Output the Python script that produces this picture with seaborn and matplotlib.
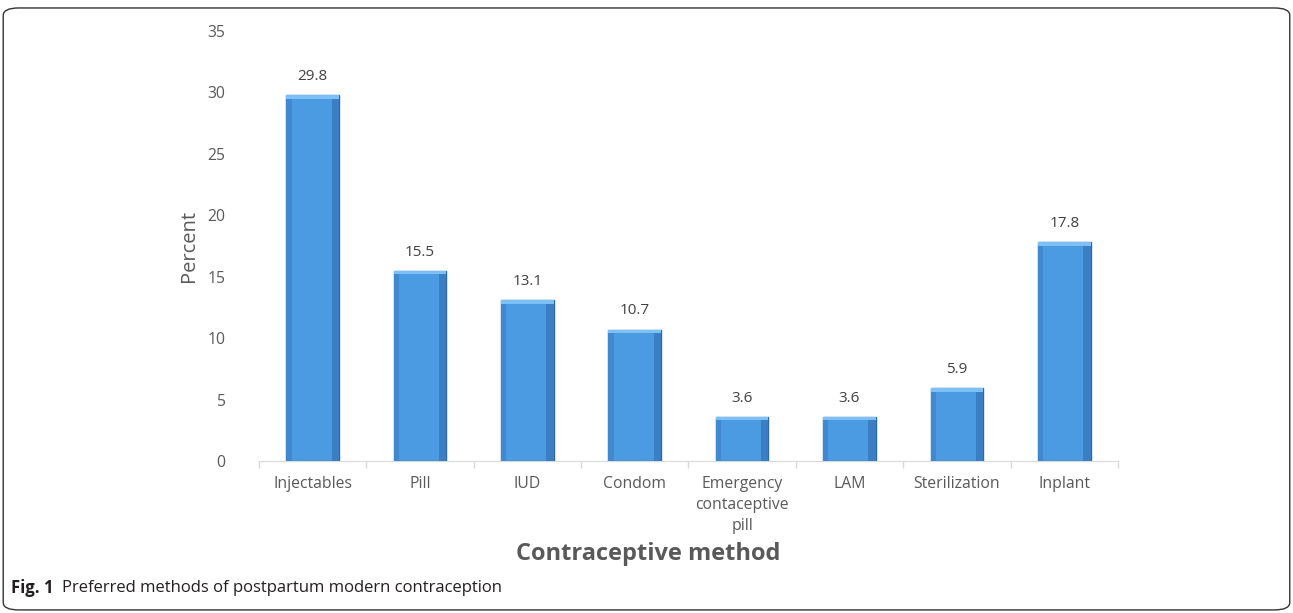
import numpy as np
import pandas as pd
import matplotlib
matplotlib.use('Agg')
import matplotlib.pyplot as plt
from matplotlib.patches import FancyBboxPatch, Rectangle
import seaborn as sns

methods = ['Injectables', 'Pill', 'IUD', 'Condom', 'Emergency\ncontaceptive\npill',
           'LAM', 'Sterilization', 'Inplant']
percent = [29.8, 15.5, 13.1, 10.7, 3.6, 3.6, 5.9, 17.8]
y_ticks = [0, 5, 10, 15, 20, 25, 30, 35]

sns.set_style('white')
plt.rcParams['font.family'] = ['Open Sans', 'DejaVu Sans']

df = pd.DataFrame({'method': methods, 'percent': percent})

fig = plt.figure(figsize=(12.93, 6.13), dpi=100)
ax = fig.add_axes([0.2003, 0.2480, 0.6643, 0.7014])

sns.barplot(data=df, x='method', y='percent', color='#4b9be2', width=0.49,
            edgecolor='#2c68a6', linewidth=1.0, saturation=1, ax=ax)

# simple bevel look: lighter top cap and darker sides
for p in ax.patches:
    x0, w, h = p.get_x(), p.get_width(), p.get_height()
    ax.add_patch(Rectangle((x0, h - 0.3), w, 0.3, color='#7cc0f5', zorder=3, lw=0))
    ax.add_patch(Rectangle((x0 + w * 0.86, 0), w * 0.14, h - 0.3, color='#3a7fc4', zorder=3, lw=0))
    ax.add_patch(Rectangle((x0, 0), w * 0.1, h - 0.3, color='#4189cf', zorder=3, lw=0))

for i, v in enumerate(percent):
    ax.text(i, v + 0.9, f'{v}', ha='center', va='bottom', fontsize=11, color='#404040')

ax.set_ylim(0, 35)
ax.set_xlim(-0.5, len(methods) - 0.5)
ax.set_yticks(y_ticks)
ax.tick_params(axis='y', length=0, labelsize=11.3, labelcolor='#595959', pad=24)
ax.tick_params(axis='x', which='major', length=0, labelsize=11.3, labelcolor='#595959', pad=11)
ax.set_xticks(np.arange(-0.5, len(methods), 1), minor=True)
ax.tick_params(axis='x', which='minor', bottom=True, length=5, color='#d9d9d9', width=1)
for lbl in ax.get_xticklabels():
    lbl.set_linespacing(1.42)
    lbl.set_verticalalignment('top')

for s in ['top', 'right', 'left']:
    ax.spines[s].set_visible(False)
ax.spines['bottom'].set_color('#d9d9d9')

ax.set_ylabel('Percent', fontsize=14.5, color='#595959', labelpad=6)
ax.set_xlabel('')
fig.text(0.501, 0.097, 'Contraceptive method', ha='center', va='center',
         fontsize=17, fontweight='bold', color='#595959')

fig.text(0.0085, 0.040, 'Fig. 1', ha='left', va='center', fontsize=12,
         fontweight='bold', color='#231f20')
fig.text(0.0480, 0.040, 'Preferred methods of postpartum modern contraception',
         ha='left', va='center', fontsize=12, color='#231f20')

frame = FancyBboxPatch((0.0025, 0.005), 0.9950, 0.982, boxstyle='round,pad=0,rounding_size=0.012',
                       transform=fig.transFigure, fill=False, edgecolor='#333333', lw=1.0)
fig.patches.append(frame)

fig.savefig('out.png', dpi=100)
